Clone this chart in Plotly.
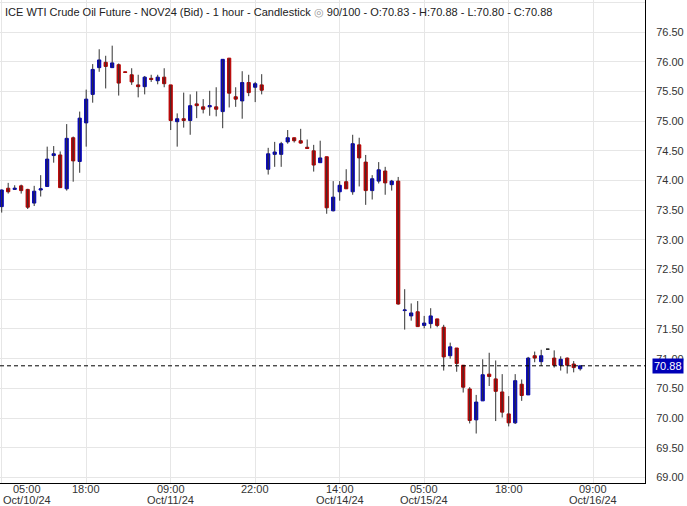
import plotly.graph_objects as go

# hourly bars, oldest first
opens = [73.56, 73.87, 73.85, 73.91, 73.85, 73.62, 73.84, 73.90, 74.42, 74.43,
         73.86, 74.72, 74.32, 74.97, 75.45, 75.90, 75.99, 75.90, 75.95, 75.83,
         75.78, 75.61, 75.58, 75.72, 75.68, 75.74, 75.61, 74.99, 75.04, 75.01,
         75.29, 75.24, 75.24, 75.24, 75.16, 76.06, 75.41, 75.34, 75.65, 75.57,
         75.61, 74.19, 74.44, 74.44, 74.65, 74.72, 74.67, 74.56, 74.50, 74.30,
         74.40, 73.49, 73.81, 73.98, 73.81, 74.60, 74.31, 73.83, 73.99, 74.16,
         73.93, 73.99, 71.81, 71.72, 71.79, 71.56, 71.59, 71.67, 71.53, 71.05,
         71.18, 70.89, 70.49, 69.97, 70.29, 70.74, 70.66, 70.44, 70.07, 69.92,
         70.57, 70.39, 71.05, 70.95, 71.16, 71.01, 70.89, 71.01, 70.91, 70.83]
highs = [73.85, 73.96, 73.92, 73.93, 73.86, 73.91, 74.09, 74.57, 74.58, 74.49,
         74.95, 74.74, 75.16, 75.53, 75.96, 76.21, 76.10, 76.27, 75.97, 75.83,
         75.89, 75.78, 75.76, 75.78, 75.78, 75.89, 75.61, 75.13, 75.48, 75.45,
         75.50, 75.37, 75.51, 75.57, 76.04, 76.06, 75.57, 75.84, 75.78, 75.66,
         75.79, 74.55, 74.65, 74.65, 74.85, 74.72, 74.87, 74.69, 74.60, 74.67,
         74.40, 73.99, 73.99, 74.19, 74.77, 74.72, 74.43, 74.09, 74.31, 74.23,
         74.01, 74.06, 72.17, 71.93, 71.97, 71.72, 71.85, 71.67, 71.57, 71.27,
         71.18, 70.89, 70.52, 70.39, 70.99, 71.10, 70.97, 70.74, 70.37, 70.74,
         70.65, 71.03, 71.12, 71.15, 71.16, 71.14, 71.04, 71.02, 70.96, 70.88]
lows = [73.46, 73.78, 73.84, 73.78, 73.52, 73.57, 73.73, 73.90, 74.30, 73.88,
        73.83, 73.98, 74.13, 74.57, 75.31, 75.83, 75.55, 75.90, 75.43, 75.82,
        75.61, 75.40, 75.45, 75.66, 75.62, 75.57, 74.85, 74.57, 74.89, 74.77,
        75.05, 75.13, 75.09, 75.08, 74.88, 75.23, 75.24, 75.04, 75.42, 75.32,
        75.45, 74.10, 74.23, 74.23, 74.62, 74.64, 74.62, 74.54, 74.15, 74.30,
        73.44, 73.48, 73.66, 73.86, 73.76, 73.90, 73.59, 73.68, 73.95, 73.76,
        73.83, 71.91, 71.49, 71.64, 71.54, 71.51, 71.51, 71.53, 70.80, 71.00,
        70.78, 70.43, 69.91, 69.74, 70.29, 70.54, 69.95, 70.01, 69.86, 69.90,
        70.29, 70.39, 70.94, 70.88, 71.16, 70.85, 70.80, 70.75, 70.77, 70.80]
closes = [73.84, 73.81, 73.87, 73.83, 73.55, 73.82, 73.86, 74.36, 74.45, 73.88,
          74.71, 74.33, 75.05, 75.37, 75.87, 76.03, 75.92, 75.98, 75.64, 75.82,
          75.66, 75.58, 75.74, 75.70, 75.74, 75.63, 75.01, 75.04, 75.01, 75.26,
          75.26, 75.20, 75.26, 75.20, 76.04, 75.47, 75.37, 75.65, 75.48, 75.63,
          75.52, 74.45, 74.48, 74.62, 74.72, 74.67, 74.63, 74.54, 74.26, 74.38,
          73.54, 73.72, 73.92, 73.86, 74.62, 74.38, 73.83, 74.03, 74.18, 73.96,
          73.99, 71.92, 71.82, 71.77, 71.54, 71.60, 71.72, 71.56, 71.03, 71.20,
          70.92, 70.52, 69.96, 70.27, 70.73, 70.70, 70.45, 70.10, 69.92, 70.63,
          70.38, 71.01, 71.01, 71.05, 71.16, 70.89, 70.99, 70.89, 70.85, 70.88]

# x labels every 13 bars
tick_bars = [0, 13, 26, 39, 52, 65, 78, 91]
tick_times = ["05:00", "18:00", "09:00", "22:00", "14:00", "05:00", "18:00", "09:00"]
tick_dates = ["Oct/10/24", "", "Oct/11/24", "", "Oct/14/24", "Oct/15/24", "", "Oct/16/24"]

last_price = 70.88
title = ("ICE WTI Crude Oil Future - NOV24 (Bid) - 1 hour - Candlestick "
         "<span style='color:#999'>◎</span> 90/100 - O:70.83 - H:70.88 - L:70.80 - C:70.88")

BLUE = "#0000b8"
RED = "#b80000"
FONT = "Arial, Liberation Sans, sans-serif"

bars = list(range(len(opens)))
moving = [i for i in bars if opens[i] != closes[i]]
flat = [i for i in bars if opens[i] == closes[i]]

fig = go.Figure()

# wicks
wx, wy = [], []
for i in bars:
    if highs[i] > lows[i]:
        wx += [i, i, None]
        wy += [lows[i], highs[i], None]
fig.add_trace(go.Scatter(x=wx, y=wy, mode="lines", line=dict(color="#333333", width=1),
                         hoverinfo="skip", showlegend=False))

# bodies
fig.add_trace(go.Candlestick(
    x=moving,
    open=[opens[i] for i in moving],
    close=[closes[i] for i in moving],
    high=[max(opens[i], closes[i]) for i in moving],
    low=[min(opens[i], closes[i]) for i in moving],
    increasing=dict(fillcolor=BLUE, line=dict(color=BLUE, width=1)),
    decreasing=dict(fillcolor=RED, line=dict(color=RED, width=1)),
    showlegend=False,
))
fig.add_trace(go.Candlestick(
    x=flat,
    open=[opens[i] for i in flat], close=[closes[i] for i in flat],
    high=[highs[i] for i in flat], low=[lows[i] for i in flat],
    increasing=dict(fillcolor="#222222", line=dict(color="#222222", width=1)),
    decreasing=dict(fillcolor="#222222", line=dict(color="#222222", width=1)),
    showlegend=False,
))

# last price line
fig.add_shape(type="line", xref="paper", x0=0, x1=1, y0=last_price, y1=last_price,
              line=dict(color="#000000", width=1, dash="4px,3px"))

ann = [
    dict(text=title, xref="paper", yref="paper", x=0, y=1, xanchor="left", yanchor="top",
         xshift=3, yshift=-4, showarrow=False, font=dict(family=FONT, size=11, color="#222")),
    dict(text="%.2f" % last_price, xref="paper", yref="y", x=1, y=last_price,
         xanchor="left", yanchor="middle", xshift=7, showarrow=False, bgcolor=BLUE,
         borderpad=1, font=dict(family=FONT, size=11, color="white")),
]
for k, (b, t, d) in enumerate(zip(tick_bars, tick_times, tick_dates)):
    shift = 25 if k == 0 else 0
    ann.append(dict(text=t, x=b, xref="x", y=0, yref="paper", yanchor="middle", xshift=shift,
                    yshift=-6, showarrow=False, font=dict(family=FONT, size=11, color="#333")))
    if d:
        ann.append(dict(text=d, x=b, xref="x", y=0, yref="paper", yanchor="middle", xshift=shift,
                        yshift=-17, showarrow=False, font=dict(family=FONT, size=11, color="#333")))

fig.update_layout(
    width=687, height=506,
    margin=dict(l=0, r=42, t=0, b=23),
    paper_bgcolor="white", plot_bgcolor="white",
    showlegend=False,
    annotations=ann,
    xaxis=dict(range=[-0.26, 98.97], tickvals=tick_bars, showticklabels=False,
               showgrid=True, gridcolor="#e6e6e6", gridwidth=1, zeroline=False,
               showline=True, linecolor="#000", linewidth=1, ticks="",
               rangeslider=dict(visible=False), fixedrange=True),
    yaxis=dict(range=[68.907, 77.039], side="right", dtick=0.5, tick0=69, tickformat=".2f",
               showgrid=True, gridcolor="#e6e6e6", gridwidth=1, zeroline=False,
               showline=True, linecolor="#000", linewidth=1, ticks="",
               ticklabelstandoff=8,
               tickfont=dict(family=FONT, size=11, color="#333")),
)

# page body has a default 8px margin; drop it so the chart sits at the window corner
fig.write_html("out.html", config={"displayModeBar": False},
               post_script="document.body.style.margin='0';")
